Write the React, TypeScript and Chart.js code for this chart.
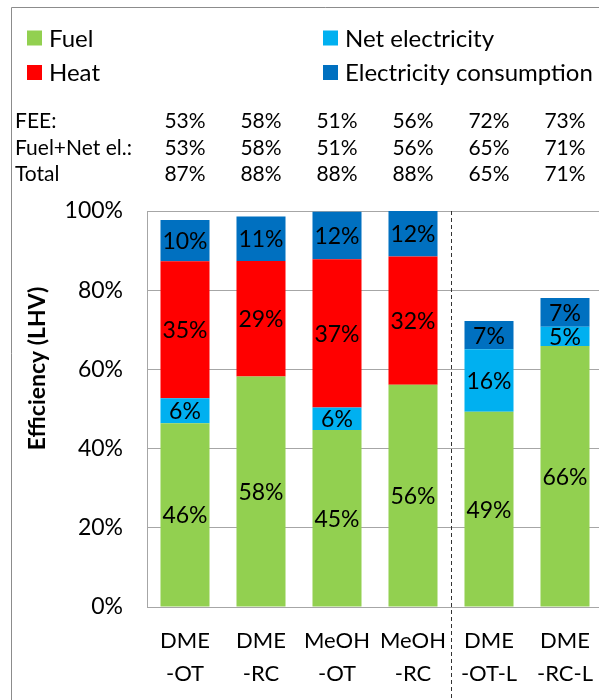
import React, { useEffect, useRef } from "react";
import { Chart, registerables } from "chart.js";

Chart.register(...registerables);

const categories = [
  ["DME", "-OT"],
  ["DME", "-RC"],
  ["MeOH", "-OT"],
  ["MeOH", "-RC"],
  ["DME", "-OT-L"],
  ["DME", "-RC-L"],
];
const fuel = [46.4, 58.2, 44.7, 56.1, 49.3, 65.9];
const netElectricity = [6.3, 0, 5.7, 0, 15.8, 4.9];
const heat = [34.6, 29.2, 37.4, 32.4, 0, 0];
const electricityConsumption = [10.4, 11.2, 12.0, 11.9, 7.1, 7.2];

const seriesNames = ["Fuel", "Net electricity", "Heat", "Electricity consumption"];
const seriesColors = ["#92D050", "#00B0F0", "#FF0000", "#0070C0"];

const tableRowLabels = ["FEE:", "Fuel+Net el.:", "Total"];
const feeRow = ["53%", "58%", "51%", "56%", "72%", "73%"];
const fuelNetElRow = ["53%", "58%", "51%", "56%", "65%", "71%"];
const totalRow = ["87%", "88%", "88%", "88%", "65%", "71%"];

const yAxisTitle = "Efficiency (LHV)";
const yMin = 0;
const yMax = 100;
const yStep = 20;

const FONT = "Lato, 'Open Sans', sans-serif";

const overlayPlugin = {
  id: "overlay",
  afterDatasetsDraw(chart: any) {
    const ctx = chart.ctx;
    const area = chart.chartArea;
    ctx.save();
    ctx.font = `23px ${FONT}`;
    ctx.fillStyle = "#000";
    ctx.textAlign = "center";
    ctx.textBaseline = "middle";
    chart.data.datasets.forEach((ds: any, di: number) => {
      const meta = chart.getDatasetMeta(di);
      meta.data.forEach((el: any, i: number) => {
        const v = ds.data[i];
        if (!v || v <= 0) return;
        const top = Math.max(Math.min(el.y, el.base), area.top);
        const bottom = Math.min(Math.max(el.y, el.base), area.bottom);
        ctx.fillText(`${Math.round(v)}%`, el.x, (top + bottom) / 2 + 1);
      });
    });
    // dashed separator
    const xs = chart.scales.x;
    const sx = Math.round((xs.getPixelForValue(3) + xs.getPixelForValue(4)) / 2) + 0.5;
    ctx.strokeStyle = "#333";
    ctx.lineWidth = 1;
    ctx.setLineDash([4, 3]);
    ctx.beginPath();
    ctx.moveTo(sx, area.top);
    ctx.lineTo(sx, chart.height);
    ctx.stroke();
    ctx.restore();
  },
  afterDraw(chart: any) {
    const ctx = chart.ctx;
    ctx.save();
    // outer frame
    ctx.strokeStyle = "#8c8c8c";
    ctx.lineWidth = 1;
    ctx.beginPath();
    ctx.moveTo(11.5, chart.height);
    ctx.lineTo(11.5, 7.5);
    ctx.lineTo(chart.width, 7.5);
    ctx.stroke();
    // legend (2 columns, row-major)
    const colX = [27, 323];
    const rowY = [38, 72.5];
    ctx.font = `24px ${FONT}`;
    ctx.textBaseline = "middle";
    ctx.textAlign = "left";
    chart.data.datasets.forEach((ds: any, i: number) => {
      const cx = colX[i % 2];
      const cy = rowY[Math.floor(i / 2)];
      ctx.fillStyle = ds.backgroundColor;
      ctx.fillRect(cx, cy - 7.5, 15, 15);
      ctx.fillStyle = "#000";
      ctx.fillText(ds.label, cx + 22, cy + 1);
    });
    // table
    const rows = [feeRow, fuelNetElRow, totalRow];
    const tableY = [121.5, 148, 174.5];
    const xs = chart.scales.x;
    ctx.font = `21px ${FONT}`;
    rows.forEach((row, r) => {
      ctx.textAlign = "left";
      ctx.fillText(tableRowLabels[r], 15, tableY[r]);
      ctx.textAlign = "center";
      row.forEach((txt, i) => {
        ctx.fillText(txt, xs.getPixelForValue(i), tableY[r]);
      });
    });
    // y axis title
    ctx.translate(37.5, 368.5);
    ctx.rotate(-Math.PI / 2);
    ctx.font = `bold 23px ${FONT}`;
    ctx.textAlign = "center";
    ctx.fillText(yAxisTitle, 0, 0);
    ctx.restore();
  },
};

export default function App() {
  const canvasRef = useRef<HTMLCanvasElement | null>(null);

  useEffect(() => {
    const canvas = canvasRef.current;
    if (!canvas) return;
    const datasetsValues = [fuel, netElectricity, heat, electricityConsumption];
    const chart = new Chart(canvas, {
      type: "bar",
      data: {
        labels: categories,
        datasets: datasetsValues.map((vals, i) => ({
          label: seriesNames[i],
          data: vals,
          backgroundColor: seriesColors[i],
          borderWidth: 0,
          barPercentage: 1,
          categoryPercentage: 0.645,
        })),
      },
      options: {
        responsive: false,
        animation: false,
        devicePixelRatio: 1,
        layout: { padding: { top: 211, left: 0, right: 37, bottom: 0 } },
        plugins: {
          legend: { display: false },
          tooltip: { enabled: false },
          title: { display: false },
        },
        scales: {
          x: {
            stacked: true,
            offset: true,
            grid: { display: false, drawTicks: false, tickLength: 0 },
            border: { display: true, color: "#a6a6a6", width: 1 },
            ticks: {
              color: "#000",
              font: { family: FONT, size: 22, lineHeight: 1.5 },
              padding: 17,
              maxRotation: 0,
              autoSkip: false,
            },
            afterFit(scale: any) {
              scale.height = 93;
            },
          },
          y: {
            stacked: true,
            min: yMin,
            max: yMax,
            grid: { color: "#a6a6a6", drawTicks: false, tickLength: 0 },
            border: { display: true, color: "#a6a6a6", width: 1 },
            ticks: {
              stepSize: yStep,
              color: "#000",
              font: { family: FONT, size: 23 },
              padding: 24,
              callback: (v: any) => `${v}%`,
            },
            afterFit(scale: any) {
              scale.width = 147;
            },
          },
        },
      },
      plugins: [overlayPlugin],
    });
    return () => chart.destroy();
  }, []);

  return (
    <div
      style={{
        position: "absolute",
        left: 0,
        top: 0,
        width: 599,
        height: 700,
        overflow: "hidden",
        background: "#fff",
      }}
    >
      <canvas ref={canvasRef} width={640} height={700} style={{ display: "block", width: 640, height: 700 }} />
    </div>
  );
}
